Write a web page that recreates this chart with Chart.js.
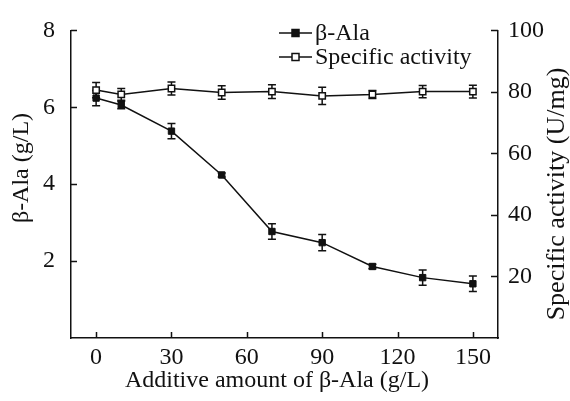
<!DOCTYPE html>
<html><head><meta charset="utf-8">
<script src="https://cdn.jsdelivr.net/npm/chart.js@4/dist/chart.umd.min.js"></script>
<style>html,body{margin:0;padding:0;background:#fff}canvas{display:block}</style>
</head><body>
<canvas id="c" width="570" height="401"></canvas>
<script>
const additive = [0, 10, 30, 50, 70, 90, 110, 130, 150];
const betaAla = [6.24, 6.06, 5.38, 4.24, 2.77, 2.48, 1.86, 1.57, 1.41];
const betaAlaErr = [0.2, 0.1, 0.2, 0.05, 0.2, 0.21, 0.06, 0.2, 0.2];
const specAct = [80.6, 79.2, 81.1, 79.8, 80.1, 78.7, 79.2, 80.1, 80.1];
const specActErr = [2.5, 1.9, 2.1, 2.2, 2.2, 2.8, 1.3, 2.0, 2.1];
const xTicks = [0, 30, 60, 90, 120, 150];
const yLeftTicks = [2, 4, 6, 8];
const yRightTicks = [20, 40, 60, 80, 100];
const labels = ['β-Ala', 'Specific activity'];
const xTitle = 'Additive amount of β-Ala (g/L)';
const yLeftTitle = 'β-Ala (g/L)';
const yRightTitle = 'Specific activity (U/mg)';

const FONT = '"Liberation Serif", "Times New Roman", serif';
const INK = '#111';

function drawSquare(ctx, x, y, s, filled) {
  ctx.save();
  ctx.lineWidth = 1.5;
  ctx.strokeStyle = INK;
  ctx.fillStyle = filled ? INK : '#fff';
  ctx.fillRect(x - s / 2, y - s / 2, s, s);
  ctx.strokeRect(x - s / 2, y - s / 2, s, s);
  ctx.restore();
}

const custom = {
  id: 'custom',
  beforeDatasetsDraw(chart) {
    const ctx = chart.ctx;
    const xs = chart.scales.x;
    const sets = [[chart.scales.y, betaAla, betaAlaErr], [chart.scales.y1, specAct, specActErr]];
    ctx.save();
    ctx.strokeStyle = INK;
    ctx.lineWidth = 1.5;
    sets.forEach(([ys, vals, errs]) => {
      vals.forEach((v, i) => {
        const px = xs.getPixelForValue(additive[i]);
        const y1 = ys.getPixelForValue(v + errs[i]);
        const y2 = ys.getPixelForValue(v - errs[i]);
        ctx.beginPath();
        ctx.moveTo(px, y1); ctx.lineTo(px, y2);
        ctx.moveTo(px - 4, y1); ctx.lineTo(px + 4, y1);
        ctx.moveTo(px - 4, y2); ctx.lineTo(px + 4, y2);
        ctx.stroke();
      });
    });
    ctx.restore();
  },
  afterDraw(chart) {
    const ctx = chart.ctx;
    const {left, right, top, bottom} = chart.chartArea;
    const xs = chart.scales.x, yl = chart.scales.y, yr = chart.scales.y1;
    ctx.save();
    ctx.strokeStyle = INK;
    ctx.lineWidth = 1.5;
    ctx.beginPath();
    xTicks.forEach(v => { const p = Math.round(xs.getPixelForValue(v)) + 0.5; ctx.moveTo(p, bottom); ctx.lineTo(p, bottom - 6); });
    yLeftTicks.forEach(v => { const p = Math.round(yl.getPixelForValue(v)) + 0.5; ctx.moveTo(left, p); ctx.lineTo(left + 6, p); });
    yRightTicks.forEach(v => { const p = Math.round(yr.getPixelForValue(v)) + 0.5; ctx.moveTo(right, p); ctx.lineTo(right - 7, p); });
    ctx.stroke();

    // legend
    const lx0 = 279, lx1 = 312, tx = 315;
    const rows = [[33, true, labels[0]], [57, false, labels[1]]];
    ctx.font = '24px ' + FONT;
    ctx.textBaseline = 'middle';
    ctx.textAlign = 'left';
    ctx.fillStyle = INK;
    rows.forEach(([y, filled, txt]) => {
      ctx.beginPath();
      ctx.lineWidth = 1.5;
      ctx.moveTo(lx0, y); ctx.lineTo(lx1, y); ctx.stroke();
      drawSquare(ctx, (lx0 + lx1) / 2, y, 7, filled);
      ctx.fillStyle = INK;
      ctx.fillText(txt, tx, y + 1);
    });

    // x axis title
    ctx.textAlign = 'center';
    ctx.fillText(xTitle, 277, 381);

    // left axis title
    ctx.save();
    ctx.translate(22, 168);
    ctx.rotate(-Math.PI / 2);
    ctx.textAlign = 'center';
    ctx.textBaseline = 'middle';
    ctx.font = '24px ' + FONT;
    ctx.fillText(yLeftTitle, 0, 0);
    ctx.restore();

    // right axis title (reads bottom to top)
    ctx.save();
    ctx.translate(557, 194);
    ctx.rotate(-Math.PI / 2);
    ctx.textAlign = 'center';
    ctx.textBaseline = 'middle';
    ctx.font = '26px ' + FONT;
    ctx.fillText(yRightTitle, 0, 0);
    ctx.restore();
    ctx.restore();
  }
};

const tickFont = {family: FONT, size: 24};

new Chart(document.getElementById('c'), {
  type: 'line',
  data: {
    datasets: [
      {
        label: labels[0],
        data: additive.map((x, i) => ({x, y: betaAla[i]})),
        yAxisID: 'y',
        borderColor: INK, borderWidth: 1.5,
        pointStyle: 'rect', pointRadius: 4.5,
        pointBackgroundColor: INK, pointBorderColor: INK, pointBorderWidth: 1,
        tension: 0
      },
      {
        label: labels[1],
        data: additive.map((x, i) => ({x, y: specAct[i]})),
        yAxisID: 'y1',
        borderColor: INK, borderWidth: 1.5,
        pointStyle: 'rect', pointRadius: 4.5,
        pointBackgroundColor: '#fff', pointBorderColor: INK, pointBorderWidth: 1.5,
        tension: 0
      }
    ]
  },
  options: {
    responsive: false,
    animation: false,
    layout: {padding: {top: 20, left: 0, right: 0, bottom: 0}},
    plugins: {legend: {display: false}, tooltip: {enabled: false}},
    scales: {
      x: {
        type: 'linear', min: -10, max: 160,
        afterBuildTicks: s => { s.ticks = xTicks.map(v => ({value: v})); },
        afterFit: s => { s.height = 63; },
        grid: {display: false, drawTicks: false},
        border: {display: true, color: INK, width: 1.5},
        ticks: {font: tickFont, color: INK, padding: 5, maxRotation: 0}
      },
      y: {
        position: 'left', min: 0, max: 8,
        afterBuildTicks: s => { s.ticks = yLeftTicks.map(v => ({value: v})); },
        afterFit: s => { s.width = 71; },
        grid: {display: false, drawTicks: false},
        border: {display: true, color: INK, width: 1.5},
        ticks: {font: tickFont, color: INK, padding: 16}
      },
      y1: {
        position: 'right', min: 0, max: 100,
        afterBuildTicks: s => { s.ticks = yRightTicks.map(v => ({value: v})); },
        afterFit: s => { s.width = 72; },
        grid: {display: false, drawTicks: false},
        border: {display: true, color: INK, width: 1.5},
        ticks: {font: tickFont, color: INK, padding: 10}
      }
    }
  },
  plugins: [custom]
});
</script>
</body></html>
